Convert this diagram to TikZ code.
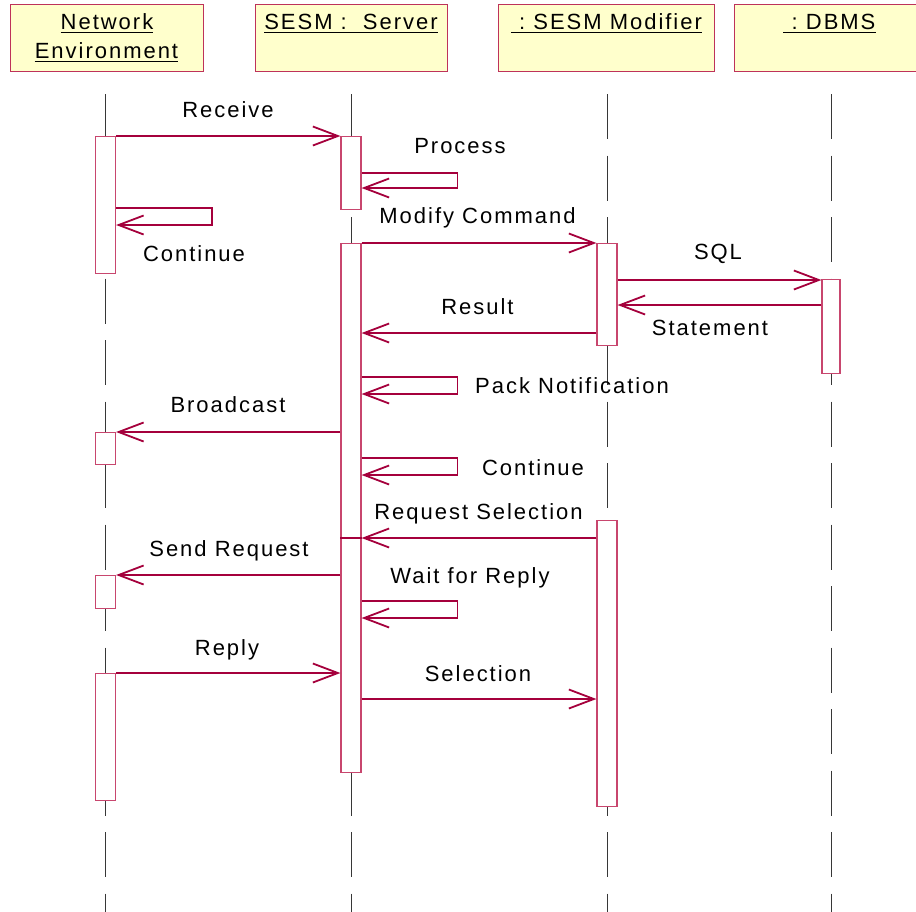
\documentclass[tikz,border=0pt]{standalone}
\usepackage{fontspec}
\setmainfont{Liberation Sans}[LetterSpace=9]
\usetikzlibrary{arrows.meta}

\definecolor{boxfill}{RGB}{255,255,204}
\definecolor{boxline}{RGB}{190,50,90}
\definecolor{msgcol}{RGB}{165,0,60}
\definecolor{actline}{RGB}{200,70,110}
\definecolor{lifecol}{RGB}{55,55,55}

\tikzset{
  objbox/.style={draw=boxline, fill=boxfill, line width=1.2pt, rectangle,
    minimum width=193pt, minimum height=67pt, anchor=north west, inner sep=0pt},
  objname/.style={anchor=base, inner sep=0pt, font=\fontsize{22}{26}\selectfont},
  uline/.style={line width=1.1pt, black},
  lifeline/.style={draw=lifecol, line width=1pt, dash pattern=on 45pt off 16.5pt},
  act/.style={draw=actline, fill=white, line width=1.2pt, rectangle,
    minimum width=20pt, anchor=north, inner sep=0pt},
  msg/.style={draw=msgcol, line width=1.4pt,
    -{Straight Barb[length=25pt, width=19pt, line width=1.8pt]}},
  msgplain/.style={draw=msgcol, line width=1.4pt},
  lbl/.style={anchor=base, inner sep=0pt, font=\fontsize{22}{26}\selectfont}
}

\begin{document}
\begin{tikzpicture}[x=1pt, y=-1pt]
\useasboundingbox (0,0) rectangle (916,911);
\fill[white] (0,0) rectangle (916,911);

% object headers
\node[objbox] (ne) at (10,4) {};
\node[objbox, minimum width=192pt] (srv) at (255,4) {};
\node[objbox, minimum width=216pt] (mod) at (498,4) {};
\node[objbox, minimum width=190pt] (db) at (734,4) {};

\node[objname] (ne1) at (107,29) {Network\ };
\node[objname] (ne2) at (106.5,58) {Environment};
\node[objname] (srvn) at (351,29) {SESM :\ \ Server};
\node[objname] (modn) at (606.5,29) {\ :\ SESM Modifier};
\node[objname] (dbn) at (829.5,29) {\ :\ DBMS};
\foreach \n in {ne1,ne2,srvn,modn,dbn}
  \draw[uline] ([yshift=-3.5pt]\n.base west) -- ([yshift=-3.5pt]\n.base east);

% lifelines
\coordinate (l1) at (105.5,94);
\coordinate (l2) at (351,94);
\coordinate (l3) at (607,94);
\coordinate (l4) at (831,94);
\coordinate (bot) at (0,912);
\foreach \l in {l1,l2,l3,l4}
  \draw[lifeline] (\l) -- (\l |- bot);

% activation bars
\node[act, minimum height=137pt] (a1) at (105.5,136) {};
\node[act, minimum height=32pt]  (a2) at (105.5,432) {};
\node[act, minimum height=33pt]  (a3) at (105.5,575) {};
\node[act, minimum height=127pt] (a4) at (105.5,673) {};
\node[act, minimum height=73pt]  (s1) at (351,136) {};
\node[act, minimum height=529pt] (s2) at (351,243) {};
\node[act, minimum height=102pt] (m1) at (607,243) {};
\node[act, minimum height=286pt] (m2) at (607,520) {};
\node[act, minimum width=18pt, minimum height=94pt] (d1) at (831,279) {};

% message rows
\coordinate (rRecv) at (0,136);
\coordinate (rProc) at (0,173);
\coordinate (rProcB) at (0,188);
\coordinate (rCont) at (0,208);
\coordinate (rContB) at (0,225);
\coordinate (rMod) at (0,243);
\coordinate (rSql) at (0,280);
\coordinate (rStmt) at (0,305);
\coordinate (rRes) at (0,333);
\coordinate (rPack) at (0,377);
\coordinate (rPackB) at (0,394);
\coordinate (rBc) at (0,432);
\coordinate (rCont2) at (0,458);
\coordinate (rCont2B) at (0,475);
\coordinate (rReq) at (0,538);
\coordinate (rSend) at (0,575);
\coordinate (rWait) at (0,601);
\coordinate (rWaitB) at (0,618);
\coordinate (rReply) at (0,673);
\coordinate (rSel) at (0,699);

% messages
\draw[msg] (a1.east |- rRecv) -- (s1.west |- rRecv);
\draw[msg] (s1.east |- rProc) -- ++(96,0) |- (s1.east |- rProcB);
\draw[msg] (a1.east |- rCont) -- ++(96,0) |- (a1.east |- rContB);
\draw[msg] (s2.east |- rMod) -- (m1.west |- rMod);
\draw[msg] (m1.east |- rSql) -- (d1.west |- rSql);
\draw[msg] (d1.west |- rStmt) -- (m1.east |- rStmt);
\draw[msg] (m1.west |- rRes) -- (s2.east |- rRes);
\draw[msg] (s2.east |- rPack) -- ++(96,0) |- (s2.east |- rPackB);
\draw[msg] (s2.west |- rBc) -- (a2.east |- rBc);
\draw[msg] (s2.east |- rCont2) -- ++(96,0) |- (s2.east |- rCont2B);
\draw[msg] (m2.west |- rReq) -- (s2.east |- rReq);
\draw[msgplain] (s2.east |- rReq) -- (s2.west |- rReq);
\draw[msg] (s2.west |- rSend) -- (a3.east |- rSend);
\draw[msg] (s2.east |- rWait) -- ++(96,0) |- (s2.east |- rWaitB);
\draw[msg] (a4.east |- rReply) -- (s2.west |- rReply);
\draw[msg] (s2.east |- rSel) -- (m2.west |- rSel);

% message labels
\node[lbl] (tRecv) at (228,117.5) {Receive};
\node[lbl] (tProc) at (460,153) {Process};
\node[lbl] (tCont) at (194,261) {Continue};
\node[lbl] (tMod) at (477.5,223) {Modify Command};
\node[lbl] (tSql) at (718,259) {SQL};
\node[lbl] (tStmt) at (710,335) {Statement};
\node[lbl] (tRes) at (477.5,314) {Result};
\node[lbl] (tPack) at (572,393) {Pack Notification};
\node[lbl] (tBc) at (228,412) {Broadcast};
\node[lbl] (tCont2) at (533,475) {Continue};
\node[lbl] (tReq) at (478.5,519) {Request Selection};
\node[lbl] (tSend) at (229,556.5) {Send Request};
\node[lbl] (tWait) at (470,583) {Wait for Reply};
\node[lbl] (tReply) at (227,655) {Reply};
\node[lbl] (tSel) at (478,681) {Selection};
\end{tikzpicture}
\end{document}
